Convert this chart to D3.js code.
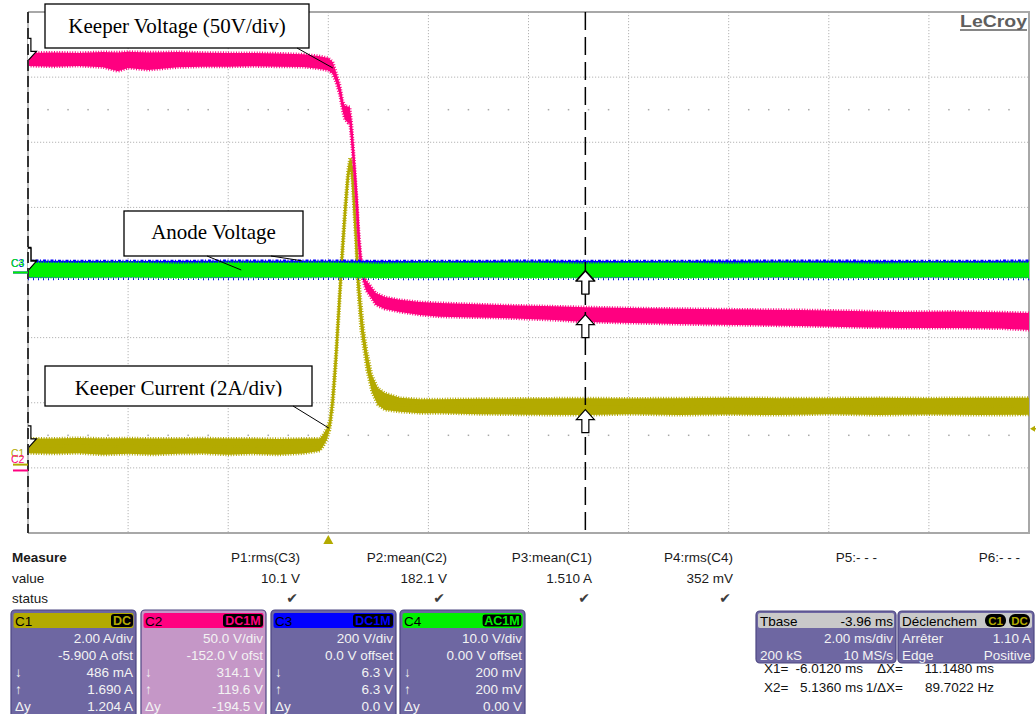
<!DOCTYPE html>
<html>
<head>
<meta charset="utf-8">
<title>Keeper / Anode transient</title>
<script src="https://cdn.jsdelivr.net/npm/d3@7/dist/d3.min.js"></script>
<style>
  html, body { margin: 0; padding: 0; background: #fff; }
  svg { display: block; }
</style>
</head>
<body>
<svg id="scope" width="1036" height="714"></svg>
<script>
// ---------------- Acquisition data (time in ms, relative to trigger) ----------------
// Each trace is stored as a min / max envelope per time sample.

// C1 : keeper current (A)
const c1Time = [-6,-5.5,-5,-4.5,-4,-3.5,-3,-2.5,-2,-1.5,-1,-0.5,
  -0.17,-0.11,-0.03,0.03,0.09,0.15,0.21,0.27,0.33,0.39,0.43,0.47,0.51,0.55,0.59,0.65,0.71,0.77,0.87,0.99,1.13,1.43,1.83,2.23,
  3,4,5.15,6,7,8,9,10,11,12,13,14];
const c1Low = [0.35,0.33,0.35,0.30,0.33,0.30,0.33,0.34,0.30,0.33,0.30,0.34,
  0.42,0.54,0.76,1.06,1.68,2.90,4.44,5.98,7.36,8.59,9.05,8.90,7.82,6.75,5.36,4.13,3.52,2.90,2.23,1.83,1.68,1.62,1.58,1.58,
  1.55,1.53,1.52,1.55,1.52,1.54,1.52,1.55,1.52,1.54,1.52,1.53];
const c1High = [0.80,0.80,0.82,0.80,0.81,0.80,0.80,0.81,0.80,0.80,0.79,0.80,
  0.80,0.91,1.12,1.37,2.29,3.52,5.05,6.59,7.97,9.05,9.42,9.36,8.43,7.36,6.13,5.05,4.13,3.52,2.75,2.35,2.20,2.05,2.01,2.01,
  2.02,2.03,2.04,2.03,2.04,2.05,2.04,2.04,2.05,2.04,2.05,2.05];

// C2 : keeper voltage (V)
const c2Time = [-6,-5.5,-5,-4.5,-4.2,-4,-3.6,-3,-2.5,-2,-1.5,-1,-0.5,-0.2,0,
  0.09,0.17,0.23,0.29,0.33,0.39,0.43,0.47,0.53,0.57,0.61,0.65,0.69,0.75,0.83,0.95,1.13,1.43,1.83,2.23,
  3.43,4.5,5.15,6.3,7.43,8.5,9.42,10.5,11.42,12.5,13.42,14];
const c2Low = [310.6,310.0,310.6,309.5,306.5,309.0,307.5,309.5,310.0,310.0,310.3,310.0,309.8,308.5,307.0,
  304.4,296.0,288.0,275.0,269.5,267.0,266.8,250.0,223.0,200.0,170.0,155.5,146.0,138.6,134.0,127.0,124.0,121.7,119.4,118.0,
  117.1,115.5,114.0,113.0,112.0,111.5,110.9,110.0,109.4,109.4,109.0,107.8];
const c2High = [320.6,321.0,320.6,321.3,321.0,321.5,321.0,321.3,320.8,320.6,320.6,320.2,319.5,318.3,316.7,
  313.7,304.0,296.0,284.0,280.0,279.5,279.1,265.0,233.0,210.0,184.0,165.4,153.9,146.2,142.4,136.3,133.2,131.0,129.3,128.6,
  127.0,126.0,125.4,124.5,124.0,123.5,123.2,122.5,121.7,122.0,121.5,120.9];

// C3 : anode voltage (V)
const c3Time = [-6,-4,-2,0,2,4,6,8,10,12,14];
const c3Low  = [-16,-15,-16,-15,-16,-15,-16,-15,-16,-15,-16];
const c3High = [36,35,36,36,35,36,35,36,36,35,36];

// C4 : anode voltage, AC coupled (V)
const c4Time = [-6,-5,-4,-3,-2,-1,0,1,2,3,4,5,6,7,8,9,10,11,12,13,14];
const c4Low  = [-0.70,-0.75,-0.70,-0.80,-0.70,-0.75,-0.70,-0.80,-0.75,-0.70,-0.80,-0.75,-0.70,-0.80,-0.75,-0.70,-0.80,-0.75,-0.70,-0.80,-0.75];
const c4High = [1.50,1.45,1.50,1.40,1.50,1.45,1.50,1.40,1.50,1.45,1.50,1.40,1.45,1.50,1.40,1.50,1.45,1.40,1.50,1.45,1.50];

// ---------------- Instrument settings ----------------
const timeDomain = [-6, 14];              // 10 div x 2 ms, trigger 3 div from the left
const chanNames = ["C1", "C2", "C3", "C4"];
const chanPerDiv = [2, 50, 200, 10];
const chanOffsets = [-5.9, -152, 0, 0];
const chanCoupling = ["DC", "DC1M", "DC1M", "AC1M"];
const chanScaleText = ["2.00 A/div", "50.0 V/div", "200 V/div", "10.0 V/div"];
const chanOffsetText = ["-5.900 A ofst", "-152.0 V ofst", "0.0 V offset", "0.00 V offset"];
const cursorTimes = [-6.012, 5.136];
const cursorX1Values = [0.486, 314.1, 6.3, 0.2];
const cursorX2Values = [1.690, 119.6, 6.3, 0.2];
const cursorX1Text = ["486 mA", "314.1 V", "6.3 V", "200 mV"];
const cursorX2Text = ["1.690 A", "119.6 V", "6.3 V", "200 mV"];
const deltaYText = ["1.204 A", "-194.5 V", "0.0 V", "0.00 V"];
const triggerLevel = 1.10;

const measureLabels = ["P1:rms(C3)", "P2:mean(C2)", "P3:mean(C1)", "P4:rms(C4)", "P5:- - -", "P6:- - -"];
const measureValues = ["10.1 V", "182.1 V", "1.510 A", "352 mV", "", ""];
const measureStatus = [true, true, true, true, false, false];

const annotationTexts = ["Keeper Voltage (50V/div)", "Anode Voltage", "Keeper Current (2A/div)"];

// ---------------- Layout & style ----------------
const SANS = "'Liberation Sans', Arial, sans-serif";
const SERIF = "'Liberation Serif', 'Times New Roman', serif";
const chanColors = ["#b3aa00", "#ff0080", "#0000ff", "#00f000"];
const plot = { left: 28, right: 1029, top: 12, bottom: 533 };

const svg = d3.select("#scope");
const defs = svg.append("defs");
defs.append("clipPath").attr("id", "plotClip")
  .append("rect").attr("x", plot.left).attr("y", plot.top)
  .attr("width", plot.right - plot.left).attr("height", plot.bottom - plot.top);

const x = d3.scaleLinear().domain(timeDomain).range([plot.left, plot.right]);
const yDiv = d3.scaleLinear().domain([-4, 4]).range([plot.bottom, plot.top]);
const yChan = chanOffsets.map((off, i) =>
  d3.scaleLinear().domain([-off - 4 * chanPerDiv[i], -off + 4 * chanPerDiv[i]]).range([plot.bottom, plot.top]));

// ---------------- Graticule ----------------
const grid = svg.append("g");
grid.selectAll("line.v").data(d3.range(-4, 13, 2)).join("line")
  .attr("x1", d => x(d)).attr("x2", d => x(d))
  .attr("y1", plot.top).attr("y2", plot.bottom)
  .attr("stroke", "#b4b4b4").attr("stroke-width", 1).attr("stroke-dasharray", "1.2,1.8");
grid.selectAll("line.h").data(d3.range(-3, 4)).join("line")
  .attr("x1", plot.left).attr("x2", plot.right)
  .attr("y1", d => yDiv(d)).attr("y2", d => yDiv(d))
  .attr("stroke", "#b4b4b4").attr("stroke-width", 1).attr("stroke-dasharray", "1.2,1.8");

// minor ruler dots (0.2 div)
const dotTimes = d3.range(1, 50).map(k => timeDomain[0] + k * 0.4).filter((t, k) => (k + 1) % 5 !== 0);
[-2.5, 2.5].forEach(dv => {
  grid.selectAll(null).data(dotTimes).join("rect")
    .attr("x", t => x(t) - 0.75).attr("y", yDiv(dv) - 0.75)
    .attr("width", 1.5).attr("height", 1.5).attr("fill", "#a8a8a8");
});

// frame
const frame = svg.append("g").attr("stroke", "#a8a8a8").attr("stroke-width", 2).attr("fill", "none");
frame.append("path").attr("d", `M${plot.left},${plot.top}H${plot.right}V${plot.bottom}H${plot.left}`);
frame.append("line").attr("x1", plot.left).attr("x2", plot.left).attr("y1", plot.top).attr("y2", plot.bottom)
  .attr("stroke-width", 1.5);

// ---------------- Traces ----------------
const traceLayer = svg.append("g").attr("clip-path", "url(#plotClip)");
const traces = [
  { ch: 0, t: c1Time, lo: c1Low, hi: c1High, fuzz: [3, "1,1.6"], fuzzLo: [3, "1,1.6"] },
  { ch: 1, t: c2Time, lo: c2Low, hi: c2High, fuzz: [3, "1,1.6"], fuzzLo: [3, "1,1.6"] },
  { ch: 2, t: c3Time, lo: c3Low, hi: c3High, fuzz: [2.5, "3,1.5,1,2"], fuzzLo: [5, "1,4"] },
  { ch: 3, t: c4Time, lo: c4Low, hi: c4High, fuzz: [2.5, "1,1.5"], fuzzLo: [2.5, "1,1.5"] }
];
traces.forEach(tr => {
  const y = yChan[tr.ch];
  const col = chanColors[tr.ch];
  const idx = d3.range(tr.t.length);
  const g = traceLayer.append("g").attr("class", "trace-" + chanNames[tr.ch]);
  g.append("path")
    .attr("d", d3.area().x(i => x(tr.t[i])).y0(i => y(tr.lo[i])).y1(i => y(tr.hi[i]))(idx))
    .attr("fill", col);
  g.append("path")
    .attr("d", d3.line().x(i => x(tr.t[i])).y(i => y((tr.lo[i] + tr.hi[i]) / 2))(idx))
    .attr("fill", "none").attr("stroke", col).attr("stroke-width", 2.5);
  [["hi", tr.fuzz], ["lo", tr.fuzzLo]].forEach(([edge, st]) => {
    g.append("path")
      .attr("d", d3.line().x(i => x(tr.t[i])).y(i => y(tr[edge][i]))(idx))
      .attr("fill", "none").attr("stroke", col)
      .attr("stroke-width", st[0]).attr("stroke-dasharray", st[1]);
  });
});

// ---------------- Cursors ----------------
const cursorLayer = svg.append("g").attr("clip-path", "url(#plotClip)");
cursorLayer.append("line")
  .attr("x1", x(cursorTimes[1])).attr("x2", x(cursorTimes[1]))
  .attr("y1", plot.top).attr("y2", plot.bottom)
  .attr("stroke", "#000").attr("stroke-width", 1.5).attr("stroke-dasharray", "18,7");
svg.append("line")
  .attr("x1", Math.max(plot.left, x(cursorTimes[0]))).attr("x2", Math.max(plot.left, x(cursorTimes[0])))
  .attr("y1", plot.top).attr("y2", plot.bottom)
  .attr("stroke", "#333").attr("stroke-width", 2).attr("stroke-dasharray", "11,5");

function arrowPath(cx, tipY, dir) {
  const s = dir === "up" ? 1 : -1;
  const pts = [[0, 0], [9, 10 * s], [3.5, 10 * s], [3.5, 23 * s], [-3.5, 23 * s], [-3.5, 10 * s], [-9, 10 * s]];
  return "M" + pts.map(p => (cx + p[0]) + "," + (tipY + p[1])).join("L") + "Z";
}
chanNames.forEach((c, i) => {
  cursorLayer.append("path")
    .attr("d", arrowPath(x(cursorTimes[0]), yChan[i](cursorX1Values[i]), "down"))
    .attr("fill", "#fff").attr("stroke", "#000").attr("stroke-width", 1.2);
  cursorLayer.append("path")
    .attr("d", arrowPath(x(cursorTimes[1]), yChan[i](cursorX2Values[i]), "up"))
    .attr("fill", "#fff").attr("stroke", "#000").attr("stroke-width", 1.2);
});

// trigger position and level markers
svg.append("path")
  .attr("d", `M${x(0)},${plot.bottom + 2}L${x(0) + 5},${plot.bottom + 11}L${x(0) - 5},${plot.bottom + 11}Z`)
  .attr("fill", chanColors[0]);
const trigY = yChan[0](triggerLevel);
svg.append("path")
  .attr("d", `M${plot.right + 1},${trigY}L${plot.right + 6},${trigY - 3}L${plot.right + 6},${trigY + 3}Z`)
  .attr("fill", chanColors[0]);
svg.append("line").attr("x1", plot.right + 5).attr("x2", 1036).attr("y1", trigY).attr("y2", trigY)
  .attr("stroke", chanColors[0]).attr("stroke-width", 1.5);

// ground-level tags on the left edge
const groundTags = [
  { ch: 0, text: "C1", dy: -8 },
  { ch: 1, text: "C2", dy: -7 },
  { ch: 2, text: "C3", dy: -6 },
  { ch: 3, text: "C4", dy: -6 }
];
groundTags.forEach(gt => {
  const gy = yChan[gt.ch](0);
  svg.append("line").attr("x1", 13).attr("x2", plot.left).attr("y1", gy).attr("y2", gy)
    .attr("stroke", chanColors[gt.ch]).attr("stroke-width", 2);
  svg.append("text").attr("x", 11).attr("y", gy + gt.dy)
    .attr("font-family", SANS).attr("font-size", 10.5).attr("fill", chanColors[gt.ch])
    .text(gt.text);
});

// ---------------- Logo ----------------
svg.append("text").attr("x", 1027).attr("y", 27).attr("text-anchor", "end")
  .attr("font-family", SANS).attr("font-weight", "bold").attr("font-size", 17)
  .attr("textLength", 67).attr("lengthAdjust", "spacingAndGlyphs")
  .attr("fill", "#5e5e5e").text("LeCroy");
svg.append("line").attr("x1", 960).attr("x2", 1027).attr("y1", 30).attr("y2", 30)
  .attr("stroke", "#5e5e5e").attr("stroke-width", 1.5);

// ---------------- Callout labels ----------------
const callouts = [
  { text: annotationTexts[0], box: [45, 4, 264, 44], baseline: 33, clip: false,
    leaders: [[297, 48, 0.09, 1]] },
  { text: annotationTexts[1], box: [124, 211, 179, 45], baseline: 239, clip: false,
    leaders: [[207, 256, -1.74, 3], [271, 256, -0.53, 2]] },
  { text: annotationTexts[2], box: [45, 366, 267, 40], baseline: 395, clip: true,
    leaders: [[293, 406, 0.01, 0]] }
];
const leaderValue = (ch, t) => {
  const tr = traces.find(d => d.ch === ch);
  const lo = d3.scaleLinear().domain(tr.t).range(tr.lo)(t);
  const hi = d3.scaleLinear().domain(tr.t).range(tr.hi)(t);
  return ch === 2 ? hi : (lo + hi) / 2;
};
callouts.forEach((co, k) => {
  const [bx, by, bw, bh] = co.box;
  const g = svg.append("g");
  g.append("rect").attr("x", bx).attr("y", by).attr("width", bw).attr("height", bh)
    .attr("fill", "#fff").attr("stroke", "#000").attr("stroke-width", 1.3);
  if (co.clip) {
    defs.append("clipPath").attr("id", "calloutClip" + k)
      .append("rect").attr("x", bx).attr("y", by).attr("width", bw).attr("height", co.baseline + 1.5 - by);
  }
  g.append("text").attr("x", bx + bw / 2).attr("y", co.baseline).attr("text-anchor", "middle")
    .attr("font-family", SERIF).attr("font-size", 21).attr("fill", "#000")
    .attr("clip-path", co.clip ? `url(#calloutClip${k})` : null)
    .text(co.text);
  co.leaders.forEach(([lx, ly, t, ch]) => {
    g.append("line").attr("x1", lx).attr("y1", ly)
      .attr("x2", x(t)).attr("y2", yChan[ch](leaderValue(ch, t)))
      .attr("stroke", "#000").attr("stroke-width", 1);
  });
});

// ---------------- Measurement table ----------------
const panel = svg.append("g").attr("font-family", SANS).attr("font-size", 13.5).attr("fill", "#1a1a1a");
panel.append("text").attr("x", 12).attr("y", 562).attr("font-weight", "bold").text("Measure");
panel.append("text").attr("x", 12).attr("y", 583).text("value");
panel.append("text").attr("x", 12).attr("y", 603).text("status");
const measureRight = [300, 447, 592, 733, 877, 1020];
measureLabels.forEach((lbl, i) => {
  panel.append("text").attr("x", measureRight[i]).attr("y", 562).attr("text-anchor", "end").text(lbl);
  if (measureValues[i]) panel.append("text").attr("x", measureRight[i]).attr("y", 583)
    .attr("text-anchor", "end").text(measureValues[i]);
  if (measureStatus[i]) panel.append("text").attr("x", measureRight[i] - 2).attr("y", 603)
    .attr("text-anchor", "end").attr("font-family", "'DejaVu Sans', sans-serif")
    .attr("font-size", 14).attr("fill", "#3c3c3c").text("\u2714");
});

// ---------------- Channel descriptor boxes ----------------
const boxX = [11, 141, 271, 400];
const boxW = 125;
const bodyFill = ["#6e67a2", "#c597c7", "#6e67a2", "#6e67a2"];
function badge(g, rightX, y, label, color, outline) {
  const w = label.length * 9 + 4;
  g.append("rect").attr("x", rightX - w).attr("y", y).attr("width", w).attr("height", 13).attr("rx", 3)
    .attr("fill", "#000").attr("stroke", outline ? color : "none").attr("stroke-width", 1.2);
  g.append("text").attr("x", rightX - w / 2).attr("y", y + 11).attr("text-anchor", "middle")
    .attr("font-family", SANS).attr("font-weight", "bold").attr("font-size", 12.5)
    .attr("fill", color).text(label);
}
chanNames.forEach((c, i) => {
  const bx = boxX[i];
  const g = svg.append("g").attr("font-family", SANS).attr("font-size", 13.5);
  g.append("rect").attr("x", bx).attr("y", 610).attr("width", boxW).attr("height", 112).attr("rx", 4)
    .attr("fill", bodyFill[i]).attr("stroke", "#4d4782").attr("stroke-width", 1.2);
  g.append("rect").attr("x", bx + 2.5).attr("y", 613).attr("width", boxW - 5).attr("height", 15).attr("rx", 2)
    .attr("fill", chanColors[i]);
  g.append("text").attr("x", bx + 4).attr("y", 626).attr("fill", "#000").text(c);
  badge(g, bx + boxW - 3, 614, chanCoupling[i], chanColors[i], i === 3);
  const right = [chanScaleText[i], chanOffsetText[i], cursorX1Text[i], cursorX2Text[i], deltaYText[i]];
  const left = ["", "", "\u2193", "\u2191", "\u0394y"];
  right.forEach((s, r) => {
    const yy = 643 + r * 17;
    g.append("text").attr("x", bx + boxW - 3).attr("y", yy).attr("text-anchor", "end").attr("fill", "#f3f3f3").text(s);
    if (left[r]) g.append("text").attr("x", bx + 4).attr("y", yy).attr("fill", "#f3f3f3").text(left[r]);
  });
});

// ---------------- Timebase / trigger boxes ----------------
function infoBox(bx, bw, header, rows, badges) {
  const g = svg.append("g").attr("font-family", SANS).attr("font-size", 13.5);
  g.append("rect").attr("x", bx).attr("y", 611).attr("width", bw).attr("height", 52).attr("rx", 4)
    .attr("fill", "#6e67a2").attr("stroke", "#4d4782").attr("stroke-width", 1.2);
  g.append("rect").attr("x", bx + 2).attr("y", 613).attr("width", bw - 4).attr("height", 15).attr("rx", 2)
    .attr("fill", "#c9c9c9");
  g.append("text").attr("x", bx + 4).attr("y", 626).attr("fill", "#000").text(header[0]);
  if (header[1]) g.append("text").attr("x", bx + bw - 3).attr("y", 626).attr("text-anchor", "end")
    .attr("fill", "#000").text(header[1]);
  if (badges) {
    badges.forEach(([label, rx]) => {
      g.append("rect").attr("x", rx - 21).attr("y", 614).attr("width", 21).attr("height", 13).attr("rx", 6)
        .attr("fill", "#000");
      g.append("text").attr("x", rx - 10.5).attr("y", 625).attr("text-anchor", "middle")
        .attr("font-weight", "bold").attr("font-size", 11.5).attr("fill", chanColors[0]).text(label);
    });
  }
  rows.forEach(([l, r], k) => {
    const yy = 643 + k * 17;
    if (l) g.append("text").attr("x", bx + 4).attr("y", yy).attr("fill", "#f3f3f3").text(l);
    if (r) g.append("text").attr("x", bx + bw - 3).attr("y", yy).attr("text-anchor", "end").attr("fill", "#f3f3f3").text(r);
  });
  return g;
}
infoBox(756, 140, ["Tbase", "-3.96 ms"], [["", "2.00 ms/div"], ["200 kS", "10 MS/s"]]);
// trigger header text is truncated by the instrument before its source badges
infoBox(898, 136, ["D\u00e9clenchem", ""], [["Arr\u00eater", "1.10 A"], ["Edge", "Positive"]], [["C1", 1006], ["DC", 1030]]);

// ---------------- Cursor readout ----------------
const readout = svg.append("g").attr("font-family", SANS).attr("font-size", 13.5).attr("fill", "#111");
const fmtMs = v => d3.format(".4f")(v).replace("\u2212", "-");
const dX = cursorTimes[1] - cursorTimes[0];
const readRows = [
  ["X1=", fmtMs(cursorTimes[0]) + " ms", "\u0394X=", fmtMs(dX) + " ms"],
  ["X2=", fmtMs(cursorTimes[1]) + " ms", "1/\u0394X=", fmtMs(1000 / dX) + " Hz"]
];
readRows.forEach((r, k) => {
  const yy = 673 + k * 19;
  readout.append("text").attr("x", 764).attr("y", yy).text(r[0]);
  readout.append("text").attr("x", 863).attr("y", yy).attr("text-anchor", "end").text(r[1]);
  readout.append("text").attr("x", 903).attr("y", yy).attr("text-anchor", "end").text(r[2]);
  readout.append("text").attr("x", 994).attr("y", yy).attr("text-anchor", "end").text(r[3]);
});
</script>
</body>
</html>
